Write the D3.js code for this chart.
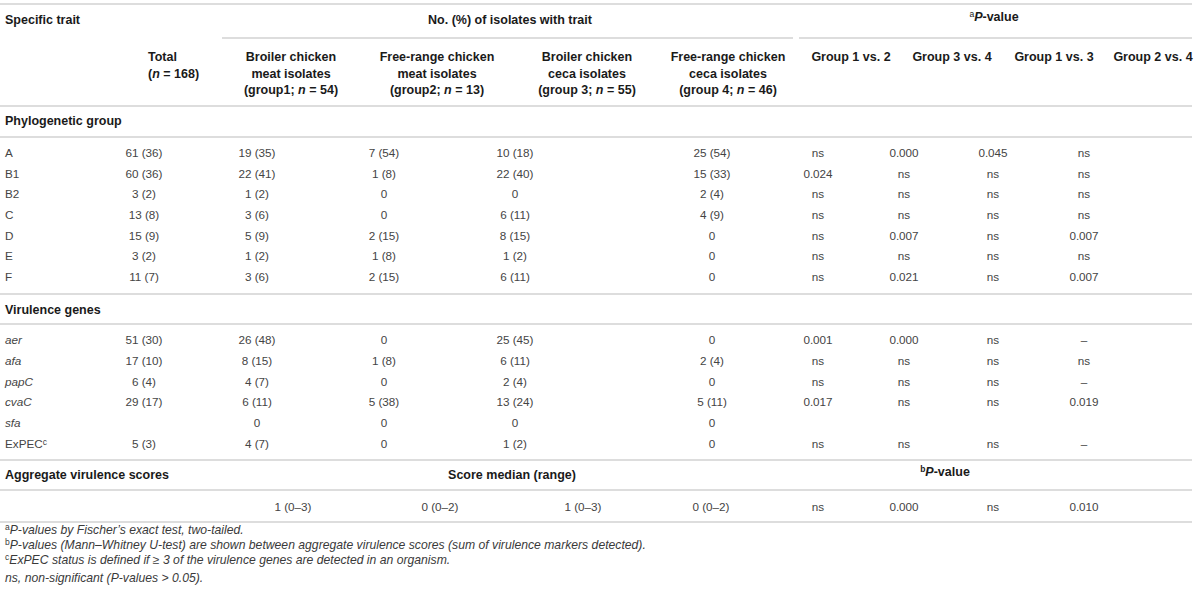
<!DOCTYPE html>
<html lang="en">
<head>
    <meta charset="UTF-8">
    <title>Isolates with trait</title>
    <script src="https://d3js.org/d3.v7.min.js"></script>
    <style>
        * { margin: 0; padding: 0; box-sizing: border-box; }
        html, body { width: 100%; height: 100%; background: #fff; }
        svg { display: block; font-family: "Liberation Sans", Arial, sans-serif; }
        .rule { stroke: #d2d2d2; stroke-width: 1.5; }
        .head { font-weight: bold; font-size: 12.5px; fill: #1a1a1a; }
        .cell { font-size: 11.7px; fill: #444; }
        .note { font-size: 12.2px; font-style: italic; fill: #3a3a3a; }
    </style>
</head>
<body>
    <svg id="chart" width="1200" height="596"></svg>
    <script>
        // Column headers
        const colKeys = ["total", "g1", "g2", "g3", "g4", "p12", "p34", "p13", "p24"];
        const groupHeaders = [
            ["Broiler chicken", "meat isolates", "(group1; |n| = 54)"],
            ["Free-range chicken", "meat isolates", "(group2; |n| = 13)"],
            ["Broiler chicken", "ceca isolates", "(group 3; |n| = 55)"],
            ["Free-range chicken", "ceca isolates", "(group 4; |n| = 46)"]
        ];
        const pHeaders = ["Group 1 vs. 2", "Group 3 vs. 4", "Group 1 vs. 3", "Group 2 vs. 4"];

        // Phylogenetic group rows
        const phyloRows = ["A", "B1", "B2", "C", "D", "E", "F"];
        const phyloTotal = ["61 (36)", "60 (36)", "3 (2)", "13 (8)", "15 (9)", "3 (2)", "11 (7)"];
        const phyloG1 = ["19 (35)", "22 (41)", "1 (2)", "3 (6)", "5 (9)", "1 (2)", "3 (6)"];
        const phyloG2 = ["7 (54)", "1 (8)", "0", "0", "2 (15)", "1 (8)", "2 (15)"];
        const phyloG3 = ["10 (18)", "22 (40)", "0", "6 (11)", "8 (15)", "1 (2)", "6 (11)"];
        const phyloG4 = ["25 (54)", "15 (33)", "2 (4)", "4 (9)", "0", "0", "0"];
        const phyloP12 = ["ns", "0.024", "ns", "ns", "ns", "ns", "ns"];
        const phyloP34 = ["0.000", "ns", "ns", "ns", "0.007", "ns", "0.021"];
        const phyloP13 = ["0.045", "ns", "ns", "ns", "ns", "ns", "ns"];
        const phyloP24 = ["ns", "ns", "ns", "ns", "0.007", "ns", "0.007"];

        // Virulence gene rows
        const virRows = ["aer", "afa", "papC", "cvaC", "sfa", "ExPEC"];
        const virTotal = ["51 (30)", "17 (10)", "6 (4)", "29 (17)", "", "5 (3)"];
        const virG1 = ["26 (48)", "8 (15)", "4 (7)", "6 (11)", "0", "4 (7)"];
        const virG2 = ["0", "1 (8)", "0", "5 (38)", "0", "0"];
        const virG3 = ["25 (45)", "6 (11)", "2 (4)", "13 (24)", "0", "1 (2)"];
        const virG4 = ["0", "2 (4)", "0", "5 (11)", "0", "0"];
        const virP12 = ["0.001", "ns", "ns", "0.017", "", "ns"];
        const virP34 = ["0.000", "ns", "ns", "ns", "", "ns"];
        const virP13 = ["ns", "ns", "ns", "ns", "", "ns"];
        const virP24 = ["\u2013", "ns", "\u2013", "0.019", "", "\u2013"];

        // Aggregate virulence score row
        const scoreRow = ["", "1 (0\u20133)", "0 (0\u20132)", "1 (0\u20133)", "0 (0\u20132)", "ns", "0.000", "ns", "0.010"];

        const footnotes = [
            ["a", "P-values by Fischer\u2019s exact test, two-tailed."],
            ["b", "P-values (Mann\u2013Whitney U-test) are shown between aggregate virulence scores (sum of virulence markers detected)."],
            ["c", "ExPEC status is defined if \u2265 3 of the virulence genes are detected in an organism."],
            ["", "ns, non-significant (P-values > 0.05)."]
        ];

        const svg = d3.select("#chart");
        const W = 1192;

        // column positions
        const xData = d3.scaleOrdinal().domain(colKeys)
            .range([144, 257, 384, 515, 712, 818, 904, 993, 1084]);
        const xScore = d3.scaleOrdinal().domain(colKeys)
            .range([144, 293, 440, 583, 711, 818, 904, 993, 1084]);
        const xGroupHead = d3.scaleOrdinal().domain(d3.range(4)).range([291, 437, 587, 728]);
        const xPHead = d3.scaleOrdinal().domain(d3.range(4)).range([851, 952, 1054, 1153]);

        // row positions
        const yPhylo = d3.scalePoint().domain(phyloRows).range([153, 277]);
        const yVir = d3.scalePoint().domain(virRows).range([340, 444]);
        const yHead = d3.scaleLinear().domain([0, 2]).range([57, 90]);

        // rules
        const rules = [
            [0, W, 4], [222, 793, 38], [799, W, 38], [0, W, 106], [0, W, 137],
            [0, W, 294], [0, W, 324], [0, W, 460], [0, W, 490], [0, W, 522]
        ];
        svg.append("g").selectAll("line").data(rules).join("line")
            .attr("class", "rule")
            .attr("x1", d => d[0]).attr("x2", d => d[1])
            .attr("y1", d => d[2]).attr("y2", d => d[2]);

        // helper: text with "|n|" italic pieces
        function richText(sel, str) {
            str.split("|").forEach((part, i) => {
                sel.append("tspan").text(part)
                    .style("font-style", i % 2 === 1 ? "italic" : null);
            });
        }

        const head = svg.append("g");
        head.append("text").attr("class", "head").attr("x", 5).attr("y", 20).attr("dy", "0.35em").text("Specific trait");
        head.append("text").attr("class", "head").attr("x", 510).attr("y", 20).attr("dy", "0.35em")
            .attr("text-anchor", "middle").text("No. (%) of isolates with trait");
        const pv = head.append("text").attr("class", "head").attr("x", 994).attr("y", 20).attr("dy", "0.35em")
            .attr("text-anchor", "middle");
        pv.append("tspan").text("a").style("font-size", "8.5px").style("font-weight", "normal").attr("dy", "-0.35em");
        pv.append("tspan").text("P").style("font-style", "italic").attr("dy", "0.35em");
        pv.append("tspan").text("-value");

        head.append("text").attr("class", "head").attr("x", 148).attr("y", yHead(0)).attr("dy", "0.35em").text("Total");
        richText(head.append("text").attr("class", "head").attr("x", 148).attr("y", yHead(1)).attr("dy", "0.35em"), "(|n| = 168)");

        groupHeaders.forEach((lines, i) => {
            lines.forEach((ln, j) => {
                richText(head.append("text").attr("class", "head")
                    .attr("x", xGroupHead(i)).attr("y", yHead(j)).attr("dy", "0.35em")
                    .attr("text-anchor", "middle"), ln);
            });
        });
        head.selectAll("text.ph").data(pHeaders).join("text")
            .attr("class", "head ph")
            .attr("x", (d, i) => xPHead(i)).attr("y", yHead(0)).attr("dy", "0.35em")
            .attr("text-anchor", "middle").text(d => d);

        // section labels
        const sections = [["Phylogenetic group", 121], ["Virulence genes", 310], ["Aggregate virulence scores", 475]];
        svg.append("g").selectAll("text").data(sections).join("text")
            .attr("class", "head").attr("x", 5).attr("y", d => d[1]).attr("dy", "0.35em").text(d => d[0]);
        svg.append("text").attr("class", "head").attr("x", 512).attr("y", 475).attr("dy", "0.35em")
            .attr("text-anchor", "middle").text("Score median (range)");
        const pv2 = svg.append("text").attr("class", "head").attr("x", 945).attr("y", 475).attr("dy", "0.35em")
            .attr("text-anchor", "middle");
        pv2.append("tspan").text("b").style("font-size", "8.5px").attr("dy", "-0.35em");
        pv2.append("tspan").text("P").style("font-style", "italic").attr("dy", "0.35em");
        pv2.append("tspan").text("-value");

        // body cells
        function drawBlock(rows, cols, yScale, labelItalic) {
            const g = svg.append("g");
            rows.forEach((r, i) => {
                const y = yScale(r);
                if (r === "ExPEC") {
                    const t = g.append("text").attr("class", "cell").attr("x", 5).attr("y", y).attr("dy", "0.35em");
                    t.append("tspan").text("ExPEC");
                    t.append("tspan").text("c").style("font-size", "8.5px").attr("dy", "-0.4em");
                } else {
                    g.append("text").attr("class", "cell").attr("x", 5).attr("y", y).attr("dy", "0.35em")
                        .style("font-style", labelItalic ? "italic" : null).text(r);
                }
                cols.forEach((col, c) => {
                    if (!col[i]) return;
                    g.append("text").attr("class", "cell")
                        .attr("x", xData(colKeys[c])).attr("y", y).attr("dy", "0.35em")
                        .attr("text-anchor", "middle").text(col[i]);
                });
            });
        }
        drawBlock(phyloRows, [phyloTotal, phyloG1, phyloG2, phyloG3, phyloG4, phyloP12, phyloP34, phyloP13, phyloP24], yPhylo, false);
        drawBlock(virRows, [virTotal, virG1, virG2, virG3, virG4, virP12, virP34, virP13, virP24], yVir, true);

        svg.append("g").selectAll("text").data(scoreRow.map((v, i) => [colKeys[i], v]).filter(d => d[1]))
            .join("text").attr("class", "cell")
            .attr("x", d => xScore(d[0])).attr("y", 507).attr("dy", "0.35em")
            .attr("text-anchor", "middle").text(d => d[1]);

        // footnotes
        const yNote = d3.scaleLinear().domain([0, 3]).range([533, 578]);
        const notes = svg.append("g");
        footnotes.forEach((f, i) => {
            const t = notes.append("text").attr("class", "note").attr("x", 5).attr("y", yNote(i)).attr("dy", "0.35em");
            if (f[0]) {
                t.append("tspan").text(f[0]).style("font-size", "8.5px").style("font-style", "normal").attr("dy", "-0.35em");
                t.append("tspan").text(f[1]).attr("dy", "0.35em");
            } else {
                t.text(f[1]);
            }
        });
    </script>
</body>
</html>
